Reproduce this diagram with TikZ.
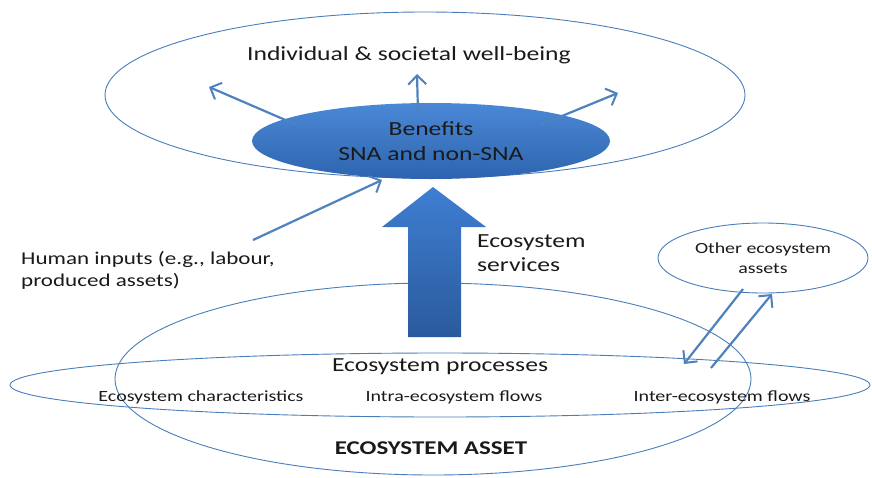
\documentclass[tikz,border=0pt]{standalone}
\usepackage{fontspec}
\setmainfont[FakeStretch=1.28]{Carlito}
\usetikzlibrary{arrows.meta,shapes.geometric}
\definecolor{lineblue}{HTML}{4A7EBB}
\definecolor{arrblue}{HTML}{4F81BD}
\definecolor{bentop}{HTML}{4A88D6}
\definecolor{benbot}{HTML}{2E64AE}
\definecolor{bigtop}{HTML}{3F7ED2}
\definecolor{bigbot}{HTML}{2A5A9C}
\definecolor{txt}{HTML}{1A1A1A}
\tikzset{
  outline/.style={ellipse, draw=lineblue, line width=0.9pt, inner sep=0pt},
  arr/.style={draw=arrblue, line width=2.2pt, -{Straight Barb[length=9pt,width=18pt,line width=2pt]}},
  lbl/.style={text=txt, inner sep=0pt}
}
\begin{document}
\begin{tikzpicture}[x=1pt,y=-1pt]
\useasboundingbox (0,0) rectangle (872,477);
% well-being ellipse
\node[outline, minimum width=640pt, minimum height=166pt] (wb) at (425,95) {};
\node[lbl, font=\fontsize{20}{23}\selectfont] (wbt) at (409,55) {Individual \& societal well-being};
% benefits
\node[ellipse, inner sep=0pt, minimum width=358pt, minimum height=76pt, top color=bentop, bottom color=benbot, text=txt, align=center, font=\fontsize{20}{25}\selectfont] (ben) at (431,141) {Benefits\\SNA and non-SNA};
\coordinate (b1s) at (297,125);
\coordinate (b1e) at (209,87);
\coordinate (b2s) at (418,113);
\coordinate (b2e) at (417,74);
\coordinate (b3s) at (540,125);
\coordinate (b3e) at (618,93);
\draw[arr] (b1s) -- (b1e);
\draw[arr] (b2s) -- (b2e);
\draw[arr] (b3s) -- (b3e);
% human inputs
\node[lbl, anchor=west, align=left, font=\fontsize{18}{22}\selectfont] (hin) at (21,270) {Human inputs (e.g., labour,\\produced assets)};
\coordinate (his) at (253,240);
\coordinate (hie) at (382,180);
\draw[arr] (his) -- (hie);
% ecosystem asset ellipses
\node[outline, minimum width=636pt, minimum height=192pt] (asset) at (433,379) {};
\node[outline, minimum width=860pt, minimum height=64pt] (proc) at (440,385) {};
% big arrow
\shade[top color=bigtop, bottom color=bigbot] (408,337) -- (408,227) -- (382,227) -- (433,187) -- (486,227) -- (461,227) -- (461,337) -- cycle;
\node[lbl, anchor=west, align=left, font=\fontsize{20}{24}\selectfont] (es) at (477,253) {Ecosystem\\services};
% texts in asset
\node[lbl, font=\fontsize{20}{23}\selectfont] (ept) at (440,367) {Ecosystem processes};
\node[lbl, font=\fontsize{15.6}{19}\selectfont] (ec) at (201,397) {Ecosystem characteristics};
\node[lbl, font=\fontsize{15.6}{19}\selectfont] (intra) at (454,397) {Intra-ecosystem flows};
\node[lbl, font=\fontsize{15.6}{19}\selectfont] (inter) at (722,397) {Inter-ecosystem flows};
\node[lbl, font=\bfseries\fontsize{19.5}{22}\selectfont] (eat) at (431,448) {ECOSYSTEM ASSET};
% other ecosystem assets
\node[outline, minimum width=210pt, minimum height=70pt, align=center, text=txt, font=\fontsize{15.5}{20}\selectfont] (other) at (763,258) {Other ecosystem\\assets};
\coordinate (o1s) at (743,289);
\coordinate (o1e) at (684,364);
\coordinate (o2s) at (711,368);
\coordinate (o2e) at (772,294);
\draw[arr] (o1s) -- (o1e);
\draw[arr] (o2s) -- (o2e);
\end{tikzpicture}
\end{document}
